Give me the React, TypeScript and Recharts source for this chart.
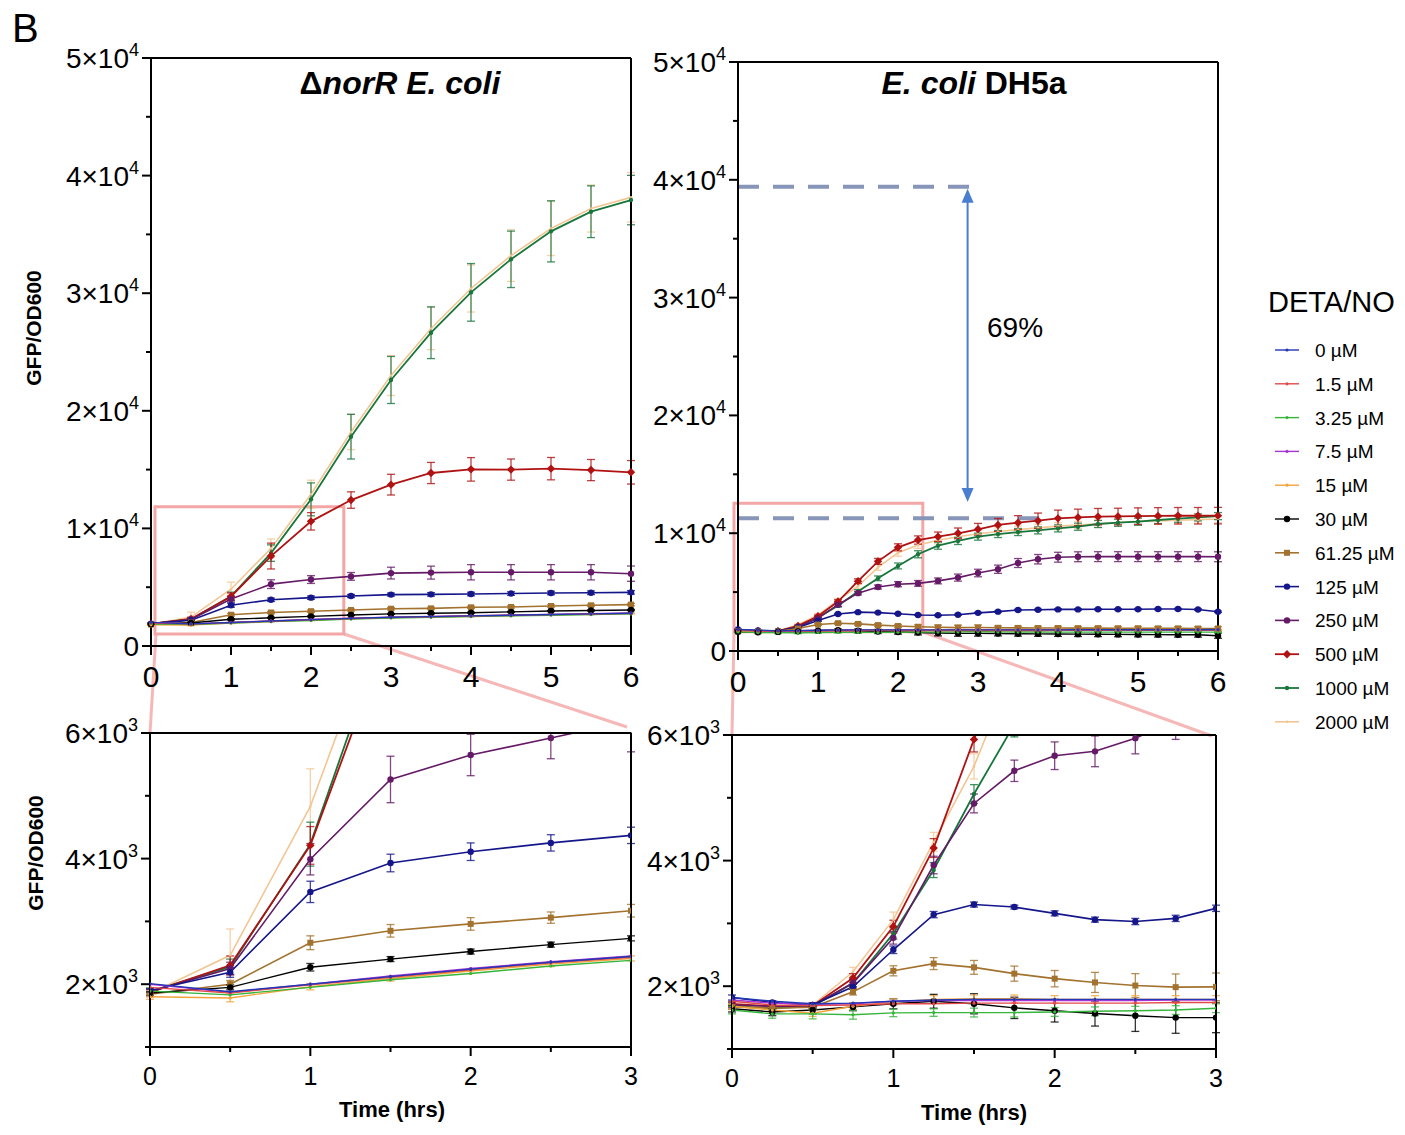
import React from "react";
import {
  LineChart,
  Line,
  XAxis,
  YAxis,
  ErrorBar,
  ReferenceLine,
  ReferenceArea,
} from "recharts";

const FONT = '"Liberation Sans", Arial, Helvetica, sans-serif';

// time points (hrs)
const timeNorR = [0, 0.5, 1, 1.5, 2, 2.5, 3, 3.5, 4, 4.5, 5, 5.5, 6];
const timeDH5a = [
  0, 0.25, 0.5, 0.75, 1, 1.25, 1.5, 1.75, 2, 2.25, 2.5, 2.75, 3, 3.25, 3.5,
  3.75, 4, 4.25, 4.5, 4.75, 5, 5.25, 5.5, 5.75, 6,
];

const xTicksTop = [0, 0.5, 1, 1.5, 2, 2.5, 3, 3.5, 4, 4.5, 5, 5.5, 6];
const xTicksZoom = [0, 0.5, 1, 1.5, 2, 2.5, 3];
const yTicksTop = [0, 5000, 10000, 15000, 20000, 25000, 30000, 35000, 40000, 45000, 50000];
const yTicksZoom = [1000, 2000, 3000, 4000, 5000, 6000];

// ΔnorR E. coli  (GFP/OD600)
const n0 = [2010, 1880, 2000, 2120, 2240, 2350, 2440, 2500, 2560, 2620, 2680, 2730, 2790];
const n1_5 = [1950, 1860, 1990, 2110, 2230, 2340, 2430, 2490, 2550, 2610, 2670, 2720, 2770];
const n3_25 = [1890, 1830, 1950, 2070, 2170, 2290, 2380, 2440, 2500, 2560, 2620, 2670, 2730];
const n7_5 = [2000, 1870, 2000, 2130, 2250, 2360, 2450, 2510, 2570, 2630, 2690, 2740, 2800];
const n15 = [1800, 1780, 1960, 2090, 2210, 2320, 2410, 2470, 2530, 2590, 2650, 2700, 2760];
const n30 = [1860, 1950, 2270, 2400, 2520, 2630, 2730, 2780, 2830, 2900, 2980, 3020, 3060];
const n61 = [1840, 2000, 2660, 2850, 2960, 3060, 3170, 3200, 3290, 3320, 3400, 3460, 3520];
const n125 = [1900, 2190, 3470, 3930, 4110, 4250, 4370, 4390, 4420, 4460, 4510, 4530, 4560];
const n250 = [1880, 2250, 3990, 5260, 5650, 5920, 6200, 6240, 6270, 6270, 6270, 6270, 6150];
const n500 = [1870, 2300, 4210, 7650, 10600, 12410, 13720, 14710, 15020, 15000, 15080, 14960, 14770];
const n1000 = [1880, 2280, 4230, 7900, 12470, 17800, 22620, 26640, 30070, 32880, 35260, 36930, 37920];
const n2000 = [1850, 2460, 4830, 8300, 12900, 18200, 23000, 27000, 30400, 33200, 35500, 37200, 38150];

// ΔnorR error (SD)
const en15 = [40, 60, 50, 40, 40, 40, 40, 40, 40, 40, 40, 40, 40];
const en30 = [20, 40, 60, 40, 40, 40, 40, 50, 50, 50, 50, 50, 50];
const en61 = [30, 60, 110, 100, 100, 90, 100, 100, 100, 100, 100, 100, 100];
const en125 = [30, 80, 170, 140, 140, 130, 130, 150, 150, 150, 150, 150, 150];
const en250 = [40, 100, 250, 370, 330, 330, 500, 550, 650, 650, 650, 650, 650];
const en500 = [40, 150, 300, 1100, 740, 700, 880, 900, 1000, 900, 950, 900, 1000];
const en1000 = [60, 120, 350, 700, 1400, 1900, 2000, 2200, 2450, 2400, 2600, 2200, 2100];
const en2000 = [60, 420, 600, 800, 1200, 1500, 1700, 1800, 2000, 2200, 2300, 2000, 2100];

// E. coli DH5a  (GFP/OD600)
const d0 = [1820, 1760, 1720, 1730, 1760, 1780, 1790, 1790, 1790, 1790, 1790, 1790, 1790, 1790, 1790, 1790, 1790, 1800, 1800, 1800, 1800, 1800, 1810, 1810, 1820];
const d1_5 = [1760, 1700, 1690, 1700, 1720, 1720, 1730, 1730, 1730, 1730, 1730, 1740, 1740, 1740, 1740, 1740, 1750, 1750, 1750, 1750, 1750, 1760, 1760, 1760, 1760];
const d3_25 = [1620, 1560, 1560, 1545, 1575, 1580, 1580, 1580, 1590, 1600, 1610, 1620, 1650, 1620, 1610, 1610, 1600, 1600, 1600, 1600, 1600, 1600, 1600, 1600, 1600];
const d7_5 = [1780, 1730, 1710, 1720, 1760, 1770, 1770, 1770, 1770, 1770, 1770, 1780, 1780, 1780, 1780, 1780, 1780, 1790, 1790, 1790, 1790, 1790, 1790, 1800, 1800];
const d15 = [1680, 1620, 1570, 1680, 1750, 1790, 1800, 1800, 1790, 1790, 1790, 1790, 1790, 1790, 1790, 1790, 1790, 1790, 1790, 1790, 1790, 1790, 1790, 1790, 1790];
const d30 = [1640, 1590, 1620, 1670, 1720, 1760, 1720, 1655, 1610, 1565, 1530, 1500, 1500, 1480, 1460, 1450, 1440, 1430, 1420, 1410, 1400, 1390, 1380, 1380, 1300];
const d61 = [1670, 1650, 1665, 1910, 2245, 2360, 2300, 2200, 2120, 2060, 2010, 1985, 1990, 1970, 1960, 1950, 1950, 1940, 1940, 1930, 1930, 1920, 1920, 1910, 1910];
const d125 = [1820, 1740, 1700, 1990, 2580, 3140, 3300, 3260, 3160, 3060, 3030, 3080, 3240, 3340, 3480, 3500, 3530, 3530, 3540, 3540, 3550, 3560, 3560, 3520, 3330];
const d250 = [1700, 1680, 1690, 2050, 2770, 3930, 4910, 5430, 5670, 5740, 5950, 6230, 6620, 6940, 7470, 7790, 7960, 8000, 8010, 8010, 8010, 8010, 8010, 8010, 8000];
const d500 = [1720, 1680, 1690, 2130, 2950, 4200, 5930, 7610, 8800, 9420, 9700, 9990, 10330, 10700, 10890, 11060, 11260, 11340, 11400, 11420, 11450, 11470, 11480, 11480, 11490];
const d1000 = [1680, 1650, 1680, 2050, 2840, 3850, 5060, 6170, 7220, 8210, 8940, 9340, 9710, 9930, 10100, 10240, 10410, 10550, 10780, 10890, 10980, 11120, 11230, 11340, 11450];
const d2000 = [1680, 1660, 1700, 2230, 3060, 4300, 5500, 7100, 8350, 9000, 9400, 9700, 9950, 10150, 10300, 10450, 10600, 10700, 10800, 10900, 11000, 11050, 11100, 11150, 11200];

// DH5a error (SD)
const ed3_25 = [60, 70, 80, 70, 60, 60, 70, 70, 70, 70, 70, 70, 70, 60, 60, 60, 60, 60, 60, 60, 60, 60, 60, 60, 60];
const ed15 = [40, 40, 50, 50, 50, 60, 60, 60, 60, 60, 60, 60, 60, 50, 50, 50, 50, 50, 50, 50, 50, 50, 50, 50, 50];
const ed30 = [50, 60, 60, 60, 80, 110, 160, 170, 180, 200, 250, 250, 240, 200, 200, 200, 200, 200, 200, 200, 200, 200, 200, 200, 220];
const ed61 = [40, 40, 40, 50, 80, 95, 110, 120, 130, 160, 190, 210, 220, 150, 150, 150, 150, 150, 150, 150, 150, 150, 150, 150, 150];
const ed125 = [40, 30, 30, 40, 60, 50, 40, 30, 40, 40, 50, 50, 50, 50, 60, 60, 60, 60, 60, 60, 60, 60, 60, 60, 60];
const ed250 = [40, 40, 40, 60, 100, 140, 150, 170, 220, 245, 250, 300, 320, 350, 380, 400, 420, 420, 420, 420, 420, 420, 420, 420, 420];
const ed500 = [40, 40, 40, 70, 100, 150, 200, 250, 300, 350, 400, 450, 500, 550, 600, 650, 700, 700, 700, 700, 700, 700, 700, 700, 700];
const ed1000 = [40, 40, 40, 60, 90, 120, 150, 200, 250, 300, 300, 300, 300, 300, 300, 300, 300, 300, 300, 300, 300, 300, 300, 300, 300];
const ed2000 = [40, 40, 40, 70, 120, 150, 200, 250, 300, 300, 300, 300, 300, 300, 300, 300, 300, 300, 300, 300, 300, 300, 300, 300, 300];

type SeriesDef = {
  key: string;
  label: string;
  color: string;
  shape: "dot" | "circle" | "square" | "diamond";
  size: number;
  width: number;
};

const series: SeriesDef[] = [
  { key: "c0", label: "0 µM", color: "#2336b4", shape: "dot", size: 1.6, width: 1.4 },
  { key: "c1_5", label: "1.5 µM", color: "#e24a4a", shape: "dot", size: 1.6, width: 1.4 },
  { key: "c3_25", label: "3.25 µM", color: "#35b53a", shape: "dot", size: 1.6, width: 1.4 },
  { key: "c7_5", label: "7.5 µM", color: "#a335d6", shape: "dot", size: 1.6, width: 1.4 },
  { key: "c15", label: "15 µM", color: "#f2a43a", shape: "dot", size: 1.6, width: 1.4 },
  { key: "c30", label: "30 µM", color: "#000000", shape: "circle", size: 3.2, width: 1.4 },
  { key: "c61", label: "61.25 µM", color: "#a2722e", shape: "square", size: 3, width: 1.6 },
  { key: "c125", label: "125 µM", color: "#14168a", shape: "circle", size: 3.2, width: 1.6 },
  { key: "c250", label: "250 µM", color: "#641a66", shape: "circle", size: 3.2, width: 1.6 },
  { key: "c500", label: "500 µM", color: "#b01212", shape: "diamond", size: 4.2, width: 1.8 },
  { key: "c1000", label: "1000 µM", color: "#17763c", shape: "circle", size: 2.2, width: 1.8 },
  { key: "c2000", label: "2000 µM", color: "#f2c693", shape: "dot", size: 1.3, width: 1.6 },
];

const norRValues: Record<string, number[]> = {
  c0: n0, c1_5: n1_5, c3_25: n3_25, c7_5: n7_5, c15: n15, c30: n30,
  c61: n61, c125: n125, c250: n250, c500: n500, c1000: n1000, c2000: n2000,
};
const norRErrors: Record<string, number[]> = {
  c15: en15, c30: en30, c61: en61, c125: en125, c250: en250,
  c500: en500, c1000: en1000, c2000: en2000,
};
const dh5aValues: Record<string, number[]> = {
  c0: d0, c1_5: d1_5, c3_25: d3_25, c7_5: d7_5, c15: d15, c30: d30,
  c61: d61, c125: d125, c250: d250, c500: d500, c1000: d1000, c2000: d2000,
};
const dh5aErrors: Record<string, number[]> = {
  c3_25: ed3_25, c15: ed15, c30: ed30, c61: ed61, c125: ed125, c250: ed250,
  c500: ed500, c1000: ed1000, c2000: ed2000,
};

const buildRows = (times: number[], values: Record<string, number[]>, errors: Record<string, number[]>) =>
  times.map((t, i) => {
    const row: Record<string, number> = { t };
    Object.keys(values).forEach((k) => (row[k] = values[k][i]));
    Object.keys(errors).forEach((k) => (row["e_" + k] = errors[k][i]));
    return row;
  });

const norRRows = buildRows(timeNorR, norRValues, norRErrors);
const dh5aRows = buildRows(timeDH5a, dh5aValues, dh5aErrors);

function Marker({ x, y, s }: { x: number; y: number; s: SeriesDef }) {
  if (s.shape === "square")
    return <rect x={x - s.size} y={y - s.size} width={s.size * 2} height={s.size * 2} fill={s.color} />;
  if (s.shape === "diamond")
    return (
      <polygon
        points={`${x},${y - s.size} ${x + s.size},${y} ${x},${y + s.size} ${x - s.size},${y}`}
        fill={s.color}
      />
    );
  return <circle cx={x} cy={y} r={s.size} fill={s.color} />;
}

const makeDot = (s: SeriesDef) => (p: any) => {
  const k = `dot-${s.key}-${p.index}`;
  if (p.cx == null || p.cy == null) return <g key={k} />;
  return (
    <g key={k}>
      <Marker x={p.cx} y={p.cy} s={s} />
    </g>
  );
};

const XTick = (props: any) => {
  const { x, y, payload, fs, dy } = props;
  const v = payload.value;
  const major = Number.isInteger(v);
  return (
    <g>
      <line x1={x} y1={y} x2={x} y2={y + (major ? 9 : 5)} stroke="#000" strokeWidth={2} />
      {major && (
        <text x={x} y={y + dy} textAnchor="middle" fontSize={fs} fontFamily={FONT} fill="#000">
          {v}
        </text>
      )}
    </g>
  );
};

const YTick = (props: any) => {
  const { x, y, payload, major, exp } = props;
  const v = payload.value;
  const isMajor = v % major === 0;
  const m = v / Math.pow(10, exp);
  return (
    <g>
      <line x1={x - (isMajor ? 9 : 5)} y1={y} x2={x} y2={y} stroke="#000" strokeWidth={2} />
      {isMajor && (
        <text x={x - 12} y={y + 10} textAnchor="end" fontSize={28} fontFamily={FONT} fill="#000">
          {v === 0 ? (
            "0"
          ) : (
            <>
              {m}×10
              <tspan dy={-12} fontSize={18}>
                {exp}
              </tspan>
            </>
          )}
        </text>
      )}
    </g>
  );
};

const ArrowShape = (props: any) => {
  const { x1, y1, y2 } = props;
  const top = Math.min(y1, y2);
  const bot = Math.max(y1, y2);
  const c = "#4a7fd0";
  return (
    <g>
      <line x1={x1} y1={top + 10} x2={x1} y2={bot - 10} stroke={c} strokeWidth={2} />
      <polygon points={`${x1},${top} ${x1 - 6},${top + 14} ${x1 + 6},${top + 14}`} fill={c} />
      <polygon points={`${x1},${bot} ${x1 - 6},${bot - 14} ${x1 + 6},${bot - 14}`} fill={c} />
    </g>
  );
};

type PanelProps = {
  data: Record<string, number>[];
  errKeys: string[];
  plotLeft: number;
  plotTop: number;
  plotW: number;
  plotH: number;
  xMax: number;
  xTicks: number[];
  xFont: number;
  xDy: number;
  yDomain: [number, number];
  yTicks: number[];
  yMajor: number;
  yExp: number;
  clip: boolean;
  children?: React.ReactNode;
};

const Y_W = 140;
const M_TOP = 30;

function Panel(p: PanelProps) {
  const mr = 12;
  const xH = 60;
  const order = [...series].reverse();
  const axisStyle = { stroke: "#000", strokeWidth: 2 };
  return (
    <div
      className={p.clip ? "zoom-panel" : undefined}
      style={{ position: "absolute", left: p.plotLeft - Y_W, top: p.plotTop - M_TOP }}
    >
      <LineChart
        width={Y_W + p.plotW + mr}
        height={M_TOP + p.plotH + xH}
        data={p.data}
        margin={{ top: M_TOP, right: mr, left: 0, bottom: 0 }}
      >
        <XAxis
          dataKey="t"
          type="number"
          domain={[0, p.xMax]}
          ticks={p.xTicks}
          interval={0}
          allowDataOverflow={p.clip}
          height={xH}
          tickSize={0}
          tickMargin={0}
          tickLine={false}
          axisLine={axisStyle}
          tick={(t: any) => <XTick {...t} fs={p.xFont} dy={p.xDy} />}
        />
        <YAxis
          type="number"
          domain={p.yDomain}
          ticks={p.yTicks}
          interval={0}
          allowDataOverflow={p.clip}
          width={Y_W}
          tickSize={0}
          tickMargin={0}
          tickLine={false}
          axisLine={axisStyle}
          tick={(t: any) => <YTick {...t} major={p.yMajor} exp={p.yExp} />}
        />
        {p.children}
        {order.map((s) => (
          <Line
            key={s.key}
            dataKey={s.key}
            type="linear"
            stroke={s.color}
            strokeWidth={s.width}
            dot={makeDot(s)}
            activeDot={false}
            isAnimationActive={false}
          >
            {p.errKeys.includes(s.key) && (
              <ErrorBar
                dataKey={"e_" + s.key}
                direction="y"
                width={4}
                stroke={s.color}
                strokeWidth={1.3}
                strokeOpacity={0.8}
                isAnimationActive={false}
              />
            )}
          </Line>
        ))}
        <ReferenceLine y={p.yDomain[1]} stroke="#000" strokeWidth={2} />
        <ReferenceLine x={p.xMax} stroke="#000" strokeWidth={2} />
      </LineChart>
    </div>
  );
}

const PINK = "#f4a6a6";

export default function App() {
  const norRErrKeys = Object.keys(norRErrors);
  const dh5aErrKeys = Object.keys(dh5aErrors);
  return (
    <div
      style={{
        position: "absolute",
        left: 0,
        top: 0,
        width: 1405,
        height: 1135,
        background: "#fff",
        fontFamily: FONT,
      }}
    >
      <style>{`.zoom-panel .recharts-errorBar, .zoom-panel .recharts-errorBars { clip-path: url(#zoomClip); }`}</style>
      {/* zoom connector lines, behind the charts */}
      <svg width={1405} height={1135} style={{ position: "absolute", left: 0, top: 0 }}>
        <defs>
          <clipPath id="zoomClip" clipPathUnits="userSpaceOnUse">
            <rect x={0} y={M_TOP - 1} width={800} height={500} />
          </clipPath>
        </defs>
        <line x1={156} y1={634} x2={150} y2={733} stroke={PINK} strokeWidth={3} opacity={0.8} />
        <line x1={344} y1={634} x2={627} y2={727} stroke={PINK} strokeWidth={3} opacity={0.8} />
        <line x1={734} y1={632} x2={732} y2={735} stroke={PINK} strokeWidth={3} opacity={0.8} />
        <line x1={923} y1={632} x2={1212} y2={736} stroke={PINK} strokeWidth={3} opacity={0.8} />
      </svg>

      <Panel
        data={norRRows}
        errKeys={norRErrKeys}
        plotLeft={151}
        plotTop={58}
        plotW={480}
        plotH={588}
        xMax={6}
        xTicks={xTicksTop}
        xFont={30}
        xDy={41}
        yDomain={[0, 50000]}
        yTicks={yTicksTop}
        yMajor={10000}
        yExp={4}
        clip={false}
      >
        <ReferenceArea
          x1={0.05}
          x2={2.41}
          y1={1020}
          y2={11850}
          fill="none"
          fillOpacity={0}
          stroke={PINK}
          strokeWidth={3}
          ifOverflow="visible"
        />
      </Panel>

      <Panel
        data={dh5aRows}
        errKeys={dh5aErrKeys}
        plotLeft={738}
        plotTop={62}
        plotW={480}
        plotH={589}
        xMax={6}
        xTicks={xTicksTop}
        xFont={30}
        xDy={41}
        yDomain={[0, 50000]}
        yTicks={yTicksTop}
        yMajor={10000}
        yExp={4}
        clip={false}
      >
        <ReferenceArea
          x1={-0.05}
          x2={2.31}
          y1={1640}
          y2={12540}
          fill="none"
          fillOpacity={0}
          stroke={PINK}
          strokeWidth={3}
          ifOverflow="visible"
        />
        <ReferenceLine
          segment={[{ x: 0, y: 39400 }, { x: 3, y: 39400 }]}
          stroke="#8795b8"
          strokeWidth={4}
          strokeDasharray="21 14"
        />
        <ReferenceLine
          segment={[{ x: 0, y: 11270 }, { x: 3.9, y: 11270 }]}
          stroke="#8795b8"
          strokeWidth={4}
          strokeDasharray="21 14"
        />
        <ReferenceLine
          segment={[{ x: 2.87, y: 39250 }, { x: 2.87, y: 12650 }]}
          shape={ArrowShape}
        />
      </Panel>

      <Panel
        data={norRRows}
        errKeys={norRErrKeys}
        plotLeft={150}
        plotTop={733}
        plotW={481}
        plotH={314}
        xMax={3}
        xTicks={xTicksZoom}
        xFont={25}
        xDy={38}
        yDomain={[1000, 6000]}
        yTicks={yTicksZoom}
        yMajor={2000}
        yExp={3}
        clip={true}
      />

      <Panel
        data={dh5aRows}
        errKeys={dh5aErrKeys}
        plotLeft={732}
        plotTop={735}
        plotW={484}
        plotH={314}
        xMax={3}
        xTicks={xTicksZoom}
        xFont={25}
        xDy={38}
        yDomain={[1000, 6000]}
        yTicks={yTicksZoom}
        yMajor={2000}
        yExp={3}
        clip={true}
      />

      {/* titles, axis labels, legend */}
      <svg
        width={1405}
        height={1135}
        style={{ position: "absolute", left: 0, top: 0, pointerEvents: "none" }}
        fontFamily={FONT}
      >
        <text x={12} y={42} fontSize={40} fill="#000">
          B
        </text>
        <text x={400} y={94} textAnchor="middle" fontSize={32} fontWeight="bold" fill="#000">
          <tspan>Δ</tspan>
          <tspan fontStyle="italic">norR E. coli</tspan>
        </text>
        <text x={974} y={94} textAnchor="middle" fontSize={32} fontWeight="bold" fill="#000">
          <tspan fontStyle="italic">E. coli</tspan>
          <tspan> DH5a</tspan>
        </text>
        <text x={987} y={337} fontSize={28} fill="#000">
          69%
        </text>
        <text
          transform="translate(41,328) rotate(-90)"
          textAnchor="middle"
          fontSize={21}
          fontWeight="bold"
          fill="#000"
        >
          GFP/OD600
        </text>
        <text
          transform="translate(43,853) rotate(-90)"
          textAnchor="middle"
          fontSize={21}
          fontWeight="bold"
          fill="#000"
        >
          GFP/OD600
        </text>
        <text x={392} y={1117} textAnchor="middle" fontSize={22} fontWeight="bold" fill="#000">
          Time (hrs)
        </text>
        <text x={974} y={1120} textAnchor="middle" fontSize={22} fontWeight="bold" fill="#000">
          Time (hrs)
        </text>

        <text x={1268} y={312} fontSize={29} fill="#000">
          DETA/NO
        </text>
        {series.map((s, i) => {
          const y = 350 + i * 33.8;
          return (
            <g key={s.key}>
              <line x1={1275} y1={y} x2={1299} y2={y} stroke={s.color} strokeWidth={s.width} />
              <Marker x={1287} y={y} s={s} />
              <text x={1315} y={y + 7} fontSize={19} fill="#000">
                {s.label}
              </text>
            </g>
          );
        })}
      </svg>
    </div>
  );
}
